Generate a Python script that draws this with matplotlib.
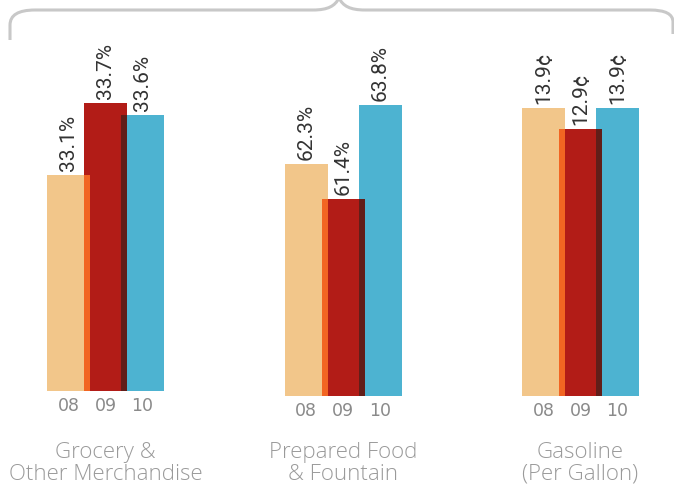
import matplotlib
matplotlib.use("Agg")
import matplotlib.pyplot as plt
from matplotlib.path import Path
from matplotlib.patches import PathPatch

# ---- data ----
years = ["08", "09", "10"]
categories = ["Grocery &\nOther Merchandise", "Prepared Food\n& Fountain", "Gasoline\n(Per Gallon)"]
grocery = [33.1, 33.7, 33.6]
prepared = [62.3, 61.4, 63.8]
gasoline = [13.9, 12.9, 13.9]
label_formats = ["{:.1f}%", "{:.1f}%", "{:.1f}\u00a2"]

# ---- style ----
bar_colors = ["#f2c68a", "#b21c17", "#4db3d1"]
overlap_colors = ["#f26522", "#611e19"]
value_color = "#333333"
tick_color = "#8a8a8a"
cat_color = "#9a9a9a"
brace_color = "#c8c8c8"

W, H = 674, 484
fig = plt.figure(figsize=(W / 100, H / 100), dpi=100)


def fx(px):
    return px / W


def fy(py):
    return 1 - py / H


# per-panel layout: (left centre px, baseline px, axis floor value, px per unit)
panels = [
    (68.5, 391, 31.3, 120.0),
    (306.0, 396, 56.33, 38.9),
    (543.5, 396, 0.0, 20.72),
]
series = [grocery, prepared, gasoline]
step_px = 37.0
bar_w = 43.0 / step_px
top_px = 20

for k, (c0, base_px, floor_val, scale) in enumerate(panels):
    vals = series[k]
    left_px = c0 - 1.5 * step_px
    width_px = 5 * step_px
    height_px = base_px - top_px
    ax = fig.add_axes([fx(left_px), fy(base_px), width_px / W, height_px / H])
    ax.set_xlim(-1.5, 3.5)
    ax.set_ylim(floor_val, floor_val + height_px / scale)
    ax.axis("off")

    xs = [0, 1, 2]
    for i, v in enumerate(vals):
        ax.bar(xs[i], v - floor_val, bottom=floor_val, width=bar_w,
               color=bar_colors[i], linewidth=0, zorder=2 + i)
    # overlapping strips between neighbouring bars
    for i in range(2):
        lo = xs[i + 1] - bar_w / 2
        hi = xs[i] + bar_w / 2
        hmin = min(vals[i], vals[i + 1])
        ax.bar((lo + hi) / 2, hmin - floor_val, bottom=floor_val, width=hi - lo,
               color=overlap_colors[i], linewidth=0, zorder=6)

    for i, v in enumerate(vals):
        ax.annotate(label_formats[k].format(v), xy=(xs[i], v), xytext=(0, 3.0),
                    textcoords="offset points", rotation=90, ha="center", va="bottom",
                    fontsize=15, color=value_color, family="Roboto",
                    annotation_clip=False)
        ax.text(xs[i], floor_val - 6.0 / scale, years[i],
                ha="center", va="top", fontsize=12.5, color=tick_color,
                family="DejaVu Sans")

    fig.text(fx(c0 + step_px), fy(463.5), categories[k], ha="center", va="center",
             fontsize=16, color=cat_color, family="Open Sans", fontweight="light",
             linespacing=1.05)

# curly brace across the top
verts = [
    (10, 40), (10, 25), (10, 10), (35, 10),
    (313, 10),
    (328, 10), (335, 6), (339, -2),
    (343, 6), (350, 10), (365, 10),
    (650, 10),
    (673, 10), (673, 22), (673, 34),
]
codes = [Path.MOVETO, Path.LINETO, Path.CURVE3, Path.CURVE3,
         Path.LINETO,
         Path.CURVE4, Path.CURVE4, Path.CURVE4,
         Path.CURVE4, Path.CURVE4, Path.CURVE4,
         Path.LINETO,
         Path.CURVE3, Path.CURVE3, Path.LINETO]
verts = [(fx(x), fy(y)) for x, y in verts]
fig.add_artist(PathPatch(Path(verts, codes), transform=fig.transFigure,
                         facecolor="none", edgecolor=brace_color, linewidth=2.2,
                         capstyle="butt", joinstyle="round"))

fig.savefig("out.png", dpi=100)
